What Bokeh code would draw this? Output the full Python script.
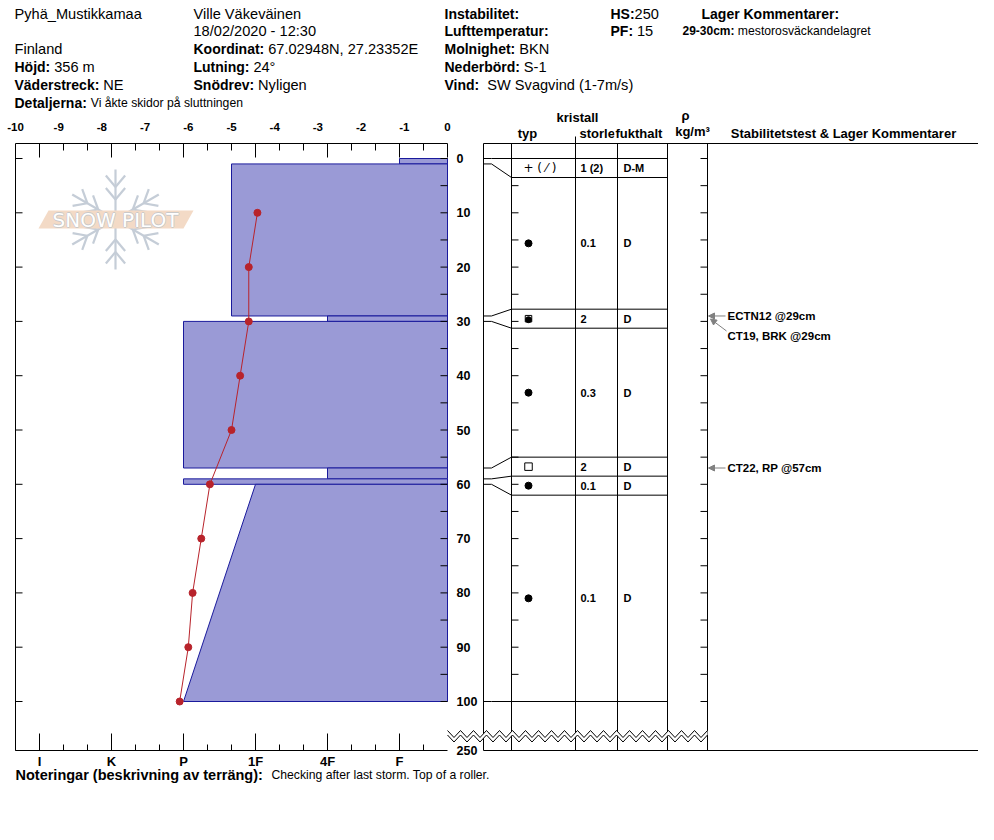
import math
from bokeh.plotting import figure
from bokeh.models import Range1d, Arrow, NormalHead
from bokeh.core.properties import value
from bokeh.embed import file_html
from bokeh.resources import INLINE

# ---------------- data ----------------
site_name = "Pyhä_Mustikkamaa"
observer = "Ville Väkeväinen"
obs_time = "18/02/2020 - 12:30"
country = "Finland"
coordinates = "67.02948N, 27.23352E"
elevation = "356 m"
slope_angle = "24°"
aspect = "NE"
wind_loading = "Nyligen"
details = "Vi åkte skidor på sluttningen"
sky_cover = "BKN"
precipitation = "S-1"
wind = "SW Svagvind (1-7m/s)"
snow_height_cm = 250
penetration_cm = 15
layer_comment_range = "29-30cm:"
layer_comment = "mestorosväckandelagret"
notes = "Checking after last storm. Top of a roller."

temp_depth_cm = [10, 20, 30, 40, 50, 60, 70, 80, 90, 100]
temp_c = [-4.4, -4.6, -4.6, -4.8, -5.0, -5.5, -5.7, -5.9, -6.0, -6.2]

layer_top_cm = [0, 1, 29, 30, 57, 59, 60]
layer_bottom_cm = [1, 29, 30, 57, 59, 60, 100]
hardness_top = ["F", "1F+", "4F", "P", "4F", "P", "1F"]
hardness_bottom = ["F", "1F+", "4F", "P", "4F", "P", "P"]
grain_form = ["PP(DF)", "RG", "RGxf", "RG", "FC", "RG", "RG"]
grain_size = ["1 (2)", "0.1", "2", "0.3", "2", "0.1", "0.1"]
moisture = ["D-M", "D", "D", "D", "D", "D", "D"]

test_results = ["ECTN12 @29cm", "CT19, BRK @29cm", "CT22, RP @57cm"]
test_depth_cm = [29, 29, 57]

temp_ticks = list(range(-10, 1))
hardness_names = ["I", "K", "P", "1F", "4F", "F"]
hardness_levels = [6, 5, 4, 3, 2, 1]
depth_ticks_cm = list(range(0, 101, 10))
depth_minor_ticks_cm = list(range(0, 101, 5))

# ---------------- layout (picture pixels) ----------------
W, H = 978, 800
OX, OY = 0, 0
PLOT_L, PLOT_R, PLOT_T, PLOT_B = 15, 447, 143, 750
D0_Y, D100_Y = 158, 701
COLS = [483, 511, 575, 617, 667, 707, 978]
KX = (PLOT_R - PLOT_L) / (temp_ticks[-1] - temp_ticks[0])
KY = (D100_Y - D0_Y) / 100.0
FONT = "Liberation Sans"
BLUE_FILL = "#9a9ad6"
BLUE_LINE = "#1a1a9c"
RED = "#b8232b"


def X(px):
    return temp_ticks[0] + (px - PLOT_L) / KX


def Y(py):
    return (py - D0_Y) / KY


def DX(n):
    return n / KX


def DY(n):
    return n / KY


HARD_LEVEL = dict(zip(hardness_names, hardness_levels))


def hardness_value(h):
    v = HARD_LEVEL[h.rstrip("+-")]
    if h.endswith("+"):
        v += 1 / 3
    elif h.endswith("-"):
        v -= 1 / 3
    return v


def hardness_x(v):
    # hardness scale overlaid on the temperature scale (I at left, F at right)
    return -(v - 1 / 3) * (temp_ticks[-1] - temp_ticks[0]) / len(hardness_names)


BOLD_W = {" ": 278, ":": 333, "(": 333, ")": 333, "-": 333, "a": 556, "b": 611, "c": 556,
          "d": 611, "e": 556, "f": 333, "g": 611, "h": 611, "i": 278, "j": 278, "k": 556,
          "l": 278, "m": 889, "n": 611, "o": 611, "p": 611, "r": 389, "s": 556, "t": 333,
          "u": 611, "v": 556, "w": 778, "y": 556, "ä": 556, "ö": 611, "A": 722, "D": 722,
          "F": 611, "H": 722, "I": 278, "K": 722, "L": 611, "M": 833, "N": 722, "P": 667,
          "S": 667, "V": 667}


def bold_width(s, size):
    return sum(BOLD_W.get(c, 556) for c in s) * size / 1000.0


p = figure(width=W, height=H,
           x_range=Range1d(X(OX), X(OX + W)), y_range=Range1d(Y(OY + H), Y(OY)),
           output_backend="svg", toolbar_location=None,
           x_axis_location=None, y_axis_location=None, min_border=0,
           outline_line_color=None, background_fill_color="white", border_fill_color="white")
p.grid.visible = False


def txt(xs, ys, texts, size, bold=False, align="left", font=FONT, color="black"):
    p.text(x=xs, y=ys, text=texts, text_font=value(font), text_font_size=f"{size}px",
           text_font_style="bold" if bold else "normal", text_align=align,
           text_baseline="middle", text_color=color)


def seg(x0, y0, x1, y1, color="black", width=1):
    p.segment(x0=x0, y0=y0, x1=x1, y1=y1, line_color=color, line_width=width)


# ---------------- header ----------------
NORM, BOLD, SMALL = 14.6, 14, 12.2


def field(x, y, label, val, bsize=BOLD, vsize=NORM, gap=1):
    if label:
        txt([X(x)], [Y(y)], [label], bsize, bold=True)
        x = x + bold_width(label + " " * gap, bsize)
    if val:
        txt([X(x)], [Y(y)], [val], vsize)


field(14, 13, None, site_name)
field(14, 48, None, country)
field(14, 66.5, "Höjd:", elevation)
field(14, 84, "Väderstreck:", aspect)
field(14, 102, "Detaljerna:", details, vsize=SMALL)
field(193, 13, None, observer)
field(193, 30, None, obs_time)
field(193, 48, "Koordinat:", coordinates)
field(193, 66.5, "Lutning:", slope_angle)
field(193, 84, "Snödrev:", wind_loading)
field(444, 13, "Instabilitet:", None)
field(444, 30, "Lufttemperatur:", None)
field(444, 48, "Molnighet:", sky_cover)
field(444, 66.5, "Nederbörd:", precipitation)
field(444, 84, "Vind:", wind, gap=2)
field(610, 13, "HS:", str(snow_height_cm), gap=0)
field(610, 30, "PF:", str(penetration_cm), gap=1)
field(701, 13, "Lager Kommentarer:", None)
field(682, 30, layer_comment_range, layer_comment, bsize=12, vsize=SMALL)

# ---------------- SnowPilot watermark ----------------
cx, cy, L = 115, 219, 50
fxs, fys = [], []
for a in [90, 30, -30, -90, 150, 210]:
    r = math.radians(a)
    ux, uy = math.cos(r), -math.sin(r)
    fxs.append([X(cx), X(cx + L * ux)])
    fys.append([Y(cy), Y(cy + L * uy)])
    for t in (0.4, 0.65):
        bx, by = cx + t * L * ux, cy + t * L * uy
        for s in (1, -1):
            rr = r + s * math.radians(40)
            fxs.append([X(bx), X(bx + 0.3 * L * math.cos(rr))])
            fys.append([Y(by), Y(by - 0.3 * L * math.sin(rr))])
p.multi_line(fxs, fys, line_color="#c5cdd7", line_width=2.2)
banner = [(48, 210), (193, 210), (183, 228), (38, 228)]
p.patch([X(a) for a, b in banner], [Y(b) for a, b in banner], fill_color="#f3dac6", line_color=None)
for ox, oy in [(-0.8, 0), (0.8, 0), (0, -0.8), (0, 0.8)]:
    txt([X(115 + ox)], [Y(219.5 + oy)], ["SNOW PILOT"], 20, font="DejaVu Sans", align="center", color="#c9c9c9")
txt([X(115)], [Y(219.5)], ["SNOW PILOT"], 20, font="DejaVu Sans", align="center", color="white")

# ---------------- hardness profile ----------------
bar_xs, bar_ys = [], []
for top, bot, ht, hb in zip(layer_top_cm, layer_bottom_cm, hardness_top, hardness_bottom):
    bar_xs.append([hardness_x(hardness_value(ht)), 0, 0, hardness_x(hardness_value(hb))])
    bar_ys.append([top, top, bot, bot])
p.patches(bar_xs, bar_ys, fill_color=BLUE_FILL, line_color=BLUE_LINE, line_width=1)

# ---------------- temperature profile ----------------
p.line(temp_c, temp_depth_cm, line_color=RED, line_width=1)
p.scatter(temp_c, temp_depth_cm, size=7, color=RED)

# ---------------- profile frame & axes ----------------
xl, xr = temp_ticks[0], temp_ticks[-1]
p.multi_line([[xl, xl], [xl, xr], [xl, xr]],
             [[Y(PLOT_T), Y(PLOT_B)], [Y(PLOT_T), Y(PLOT_T)], [Y(PLOT_B), Y(PLOT_B)]],
             line_color="black", line_width=1)
txt(temp_ticks, [Y(126)] * len(temp_ticks), [str(t) for t in temp_ticks], 11.5, bold=True, align="center")

n3 = 3 * len(hardness_names)
top_major = [hardness_x(k / 3) for k in range(1, n3 + 1) if k % 3 == 0 or k == 1]
top_minor = [hardness_x(k / 3) for k in range(1, n3 + 1) if not (k % 3 == 0 or k == 1)]
seg(top_major, [Y(PLOT_T)] * len(top_major), top_major, [Y(PLOT_T + 14)] * len(top_major))
seg(top_minor, [Y(PLOT_T)] * len(top_minor), top_minor, [Y(PLOT_T + 7)] * len(top_minor))
bot_major = [hardness_x(k / 3) for k in range(1, n3 + 1) if k % 3 == 0]
bot_minor = [hardness_x(k / 3) for k in range(2, n3 + 2) if k % 3 != 0]
seg(bot_major, [Y(PLOT_B)] * len(bot_major), bot_major, [Y(PLOT_B - 17)] * len(bot_major))
seg(bot_minor, [Y(PLOT_B)] * len(bot_minor), bot_minor, [Y(PLOT_B - 6)] * len(bot_minor))
txt([hardness_x(v) for v in hardness_levels], [Y(761)] * len(hardness_levels), hardness_names, 13,
    bold=True, align="center")

nd = len(depth_minor_ticks_cm)
seg([xr - DX(7)] * nd, depth_minor_ticks_cm, [xr] * nd, depth_minor_ticks_cm)
seg([xl] * len(depth_ticks_cm), depth_ticks_cm, [xl + DX(7)] * len(depth_ticks_cm), depth_ticks_cm)
txt([X(456)] * len(depth_ticks_cm), depth_ticks_cm, [str(d) for d in depth_ticks_cm], 12.5, bold=True)
txt([X(456)], [Y(PLOT_B)], [str(snow_height_cm)], 12.5, bold=True)

# ---------------- layer table ----------------
MIN_ROW = 3.5


def row_edges(tops, bottoms, min_h):
    out = [tops[0]] + list(bottoms)
    n = len(tops)
    i = 0
    while i < n:
        if bottoms[i] - tops[i] < min_h:
            j = i
            while j + 1 < n and bottoms[j + 1] - tops[j + 1] < min_h:
                j += 1
            k = j - i + 1
            start = tops[0] if i == 0 else (tops[i] + bottoms[j]) / 2 - k * min_h / 2
            for m in range(k + 1):
                out[i + m] = start + m * min_h
            i = j + 1
        else:
            i += 1
    return out


edges = row_edges(layer_top_cm, layer_bottom_cm, MIN_ROW)
bounds = [layer_top_cm[0]] + layer_bottom_cm

# frame
for cxp in COLS:
    seg([X(cxp)], [Y(PLOT_T)], [X(cxp)], [Y(PLOT_B)])
seg([X(COLS[0])] * 2, [Y(PLOT_T), Y(PLOT_B)], [X(COLS[-1])] * 2, [Y(PLOT_T), Y(PLOT_B)])
seg([X(COLS[2])], [Y(PLOT_T - 7)], [X(COLS[2])], [Y(PLOT_T)])
# connectors
p.multi_line([[X(COLS[0]), X(COLS[0] + 8), X(COLS[1])] for _ in bounds],
             [[a, a, r] for a, r in zip(bounds, edges)], line_color="black", line_width=1)
seg([X(COLS[1])] * len(edges), edges, [X(COLS[4])] * len(edges), edges)
# depth ticks inside the table
seg([X(COLS[1])] * nd, depth_minor_ticks_cm, [X(COLS[1] + 7)] * nd, depth_minor_ticks_cm)
seg([X(COLS[5] - 7)] * nd, depth_minor_ticks_cm, [X(COLS[5])] * nd, depth_minor_ticks_cm)

# cell contents
centers = [(edges[i] + edges[i + 1]) / 2 for i in range(len(layer_top_cm))]
sym_x = X(528)
rg = [c for c, g in zip(centers, grain_form) if g == "RG"]
p.scatter([sym_x] * len(rg), rg, size=7, color="black")
fc = [c for c, g in zip(centers, grain_form) if g == "FC"]
p.scatter([sym_x] * len(fc), fc, marker="square", size=7.5, fill_color=None, line_color="black", line_width=1)
rgxf = [c for c, g in zip(centers, grain_form) if g == "RGxf"]
p.scatter([sym_x] * len(rgxf), rgxf, marker="square", size=6.5, fill_color=None, line_color="black", line_width=1)
p.scatter([sym_x] * len(rgxf), [c + DY(1) for c in rgxf], size=6, color="black")
pp = [c for c, g in zip(centers, grain_form) if g == "PP(DF)"]
txt([X(523)] * len(pp), pp, ["+ ( \u2044 )"] * len(pp), 12, font="DejaVu Sans")
txt([X(580)] * len(centers), centers, grain_size, 11, bold=True)
txt([X(623)] * len(centers), centers, moisture, 11, bold=True)

# table header
txt([X(577)], [Y(117)], ["kristall"], 13, bold=True, align="center")
txt([X(527)], [Y(133)], ["typ"], 13, bold=True, align="center")
txt([X(579)], [Y(133)], ["storlek"], 13, bold=True)
p.quad(left=X(614), right=X(661), top=Y(125), bottom=Y(141), fill_color="white", line_color=None)
txt([X(615)], [Y(133)], ["fukthalt"], 13, bold=True)
txt([X(685)], [Y(115)], ["ρ"], 13, bold=True, align="center")
txt([X(692)], [Y(131)], ["kg/m³"], 13, bold=True, align="center")
txt([X(843)], [Y(133)], ["Stabilitetstest & Lager Kommentarer"], 13, bold=True, align="center")

# depth-axis break (zigzag)
zx = [PLOT_R + 6.5 * k for k in range(41)]
zu = [730 if k % 2 == 0 else 737 for k in range(41)]
zl = [u + 4.5 for u in zu]
p.patch([X(v) for v in zx] + [X(v) for v in reversed(zx)],
        [Y(v) for v in zu] + [Y(v) for v in reversed(zl)], fill_color="white", line_color=None)
p.multi_line([[X(v) for v in zx]] * 2, [[Y(v) for v in zu], [Y(v) for v in zl]], line_color="black")

# stability tests
seen = {}
for label, d in zip(test_results, test_depth_cm):
    k = seen.get(d, 0)
    seen[d] = k + 1
    ty = d + DY(20 * k)
    txt([X(727)], [ty], [label], 11.5, bold=True)
    if k == 0:
        xs0, ys0, xs1, ys1 = X(725), d, X(708), d
    else:
        xs0, ys0, xs1, ys1 = X(726), ty - DY(5), X(710), d + DY(3)
    p.add_layout(Arrow(end=NormalHead(size=6, fill_color="#808080", line_color="#808080"),
                       x_start=xs0, y_start=ys0, x_end=xs1, y_end=ys1,
                       line_color="#808080", line_width=1))

# ---------------- footer ----------------
txt([X(15)], [Y(774)], ["Noteringar (beskrivning av terräng):"], 14.5, bold=True)
txt([X(271)], [Y(774)], [notes], SMALL)

open("out.html", "w").write(file_html(p, INLINE))
